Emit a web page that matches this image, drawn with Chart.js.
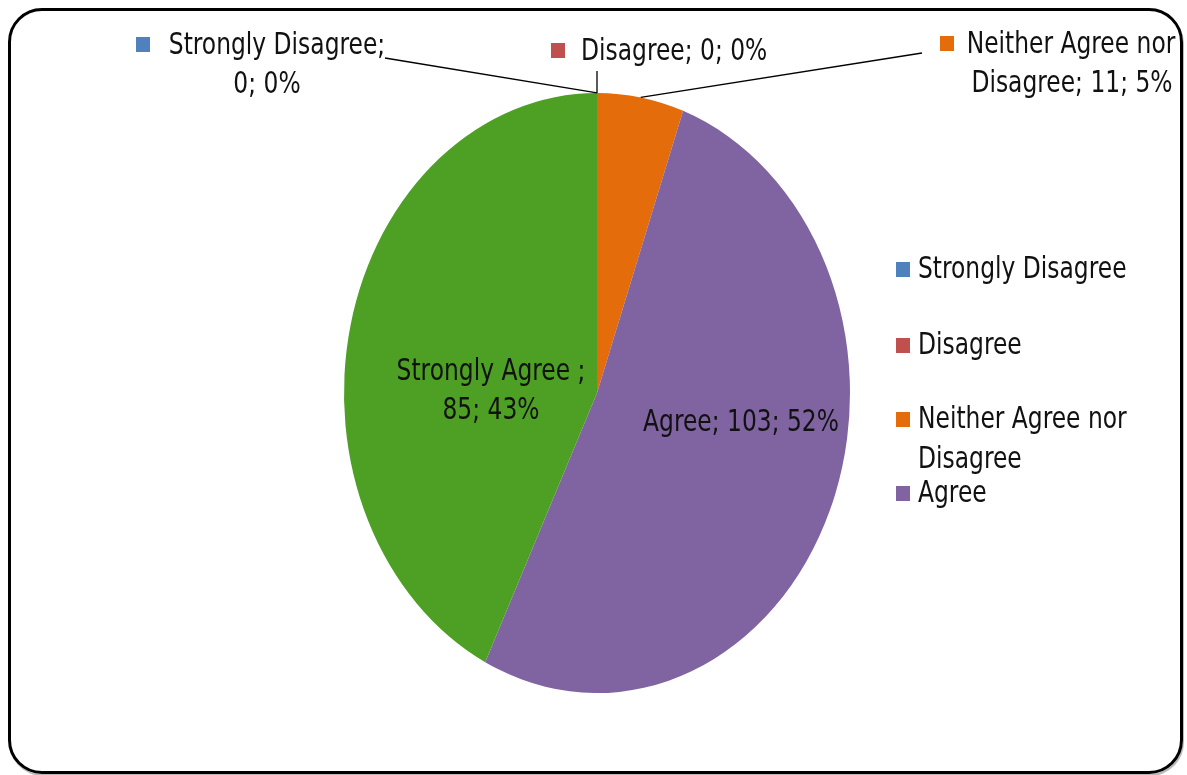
<!DOCTYPE html>
<html>
<head>
<meta charset="utf-8">
<script src="https://cdn.jsdelivr.net/npm/chart.js@4/dist/chart.umd.min.js"></script>
<style>
  html, body { margin: 0; padding: 0; background: #fff; }
  #wrap { position: relative; width: 1187px; height: 775px; overflow: hidden; }
  #frame {
    position: absolute; left: 8px; top: 8px; width: 1169px; height: 760px;
    border: 3px solid #000; border-radius: 34px;
    box-shadow: 1px 2px 0 #bbb;
  }
  #pieChart { position: absolute; left: 0; top: 0; }
</style>
</head>
<body>
<div id="wrap">
  <div id="frame"></div>
  <canvas id="pieChart" width="1187" height="775"></canvas>
</div>
<script>
// survey answers
const categories = ['Strongly Disagree', 'Disagree', 'Neither Agree nor Disagree', 'Agree', 'Strongly Agree '];
const counts = [0, 0, 11, 103, 85];
const percents = [0, 0, 5, 52, 43];
const colors = ['#4f81bd', '#c0504d', '#e46c0a', '#8064a2', '#4ea024'];

// the whole figure is drawn taller than wide
const STRETCH = 1.186;
const FONT = '26px "Liberation Sans Narrow", "DejaVu Sans Condensed", sans-serif';
const TEXT = '#111';

function stretchedText(ctx, text, x, y, align) {
  ctx.save();
  ctx.translate(x, y);
  ctx.scale(1, STRETCH);
  ctx.textAlign = align || 'center';
  ctx.textBaseline = 'middle';
  ctx.fillText(text, 0, 0);
  ctx.restore();
}

// squash the circle into an ellipse
const stretchPie = {
  id: 'stretchPie',
  beforeDatasetsDraw(chart) {
    const { ctx, chartArea } = chart;
    const cx = (chartArea.left + chartArea.right) / 2;
    const cy = (chartArea.top + chartArea.bottom) / 2;
    ctx.save();
    ctx.translate(cx, cy);
    ctx.scale(1, STRETCH);
    ctx.translate(-cx, -cy);
  },
  afterDatasetsDraw(chart) {
    chart.ctx.restore();
  }
};

// data labels + leader lines + legend
const pieLabels = {
  id: 'pieLabels',
  afterDraw(chart) {
    const { ctx } = chart;
    const arcs = chart.getDatasetMeta(0).data;
    ctx.save();
    ctx.font = FONT;
    ctx.fillStyle = TEXT;

    // point on the outer edge in the middle of slice i
    function edge(i) {
      const a = arcs[i];
      const mid = (a.startAngle + a.endAngle) / 2;
      return [a.x + a.outerRadius * Math.cos(mid), a.y + a.outerRadius * STRETCH * Math.sin(mid)];
    }
    function line(x1, y1, p) {
      ctx.beginPath();
      ctx.strokeStyle = '#000';
      ctx.lineWidth = 1.3;
      ctx.moveTo(x1, y1);
      ctx.lineTo(p[0], p[1]);
      ctx.stroke();
    }
    function marker(i, x, y) {
      ctx.fillStyle = colors[i];
      ctx.fillRect(x, y, 14, 15);
      ctx.fillStyle = TEXT;
    }

    // outside labels for the small slices
    line(385, 58, edge(0));
    marker(0, 136, 37);
    stretchedText(ctx, categories[0] + ';', 277, 46);
    stretchedText(ctx, counts[0] + '; ' + percents[0] + '%', 267, 85);

    line(597, 71, edge(1));
    marker(1, 551, 43);
    stretchedText(ctx, categories[1] + '; ' + counts[1] + '; ' + percents[1] + '%', 581, 52, 'left');

    line(922, 53, edge(2));
    marker(2, 940, 36);
    stretchedText(ctx, 'Neither Agree nor', 1071, 45);
    stretchedText(ctx, 'Disagree; ' + counts[2] + '; ' + percents[2] + '%', 1072, 84);

    // inside labels
    stretchedText(ctx, categories[4] + ';', 491, 372);
    stretchedText(ctx, counts[4] + '; ' + percents[4] + '%', 491, 411);
    stretchedText(ctx, categories[3] + '; ' + counts[3] + '; ' + percents[3] + '%', 741, 423);

    // legend (first four entries)
    const legendY = [270, 346, 420, 494];
    for (let i = 0; i < 4; i++) {
      marker(i, 896, legendY[i] - 8);
      if (i === 2) {
        stretchedText(ctx, 'Neither Agree nor', 918, legendY[i], 'left');
        stretchedText(ctx, 'Disagree', 918, legendY[i] + 40, 'left');
      } else {
        stretchedText(ctx, categories[i], 918, legendY[i], 'left');
      }
    }
    ctx.restore();
  }
};

new Chart(document.getElementById('pieChart').getContext('2d'), {
  type: 'pie',
  data: {
    labels: categories,
    datasets: [{
      data: counts,
      backgroundColor: colors,
      borderWidth: 0
    }]
  },
  options: {
    responsive: false,
    animation: false,
    layout: { padding: { left: 344, right: 337, top: 140, bottom: 129 } },
    plugins: {
      legend: { display: false },
      tooltip: { enabled: false }
    }
  },
  plugins: [stretchPie, pieLabels]
});
</script>
</body>
</html>
